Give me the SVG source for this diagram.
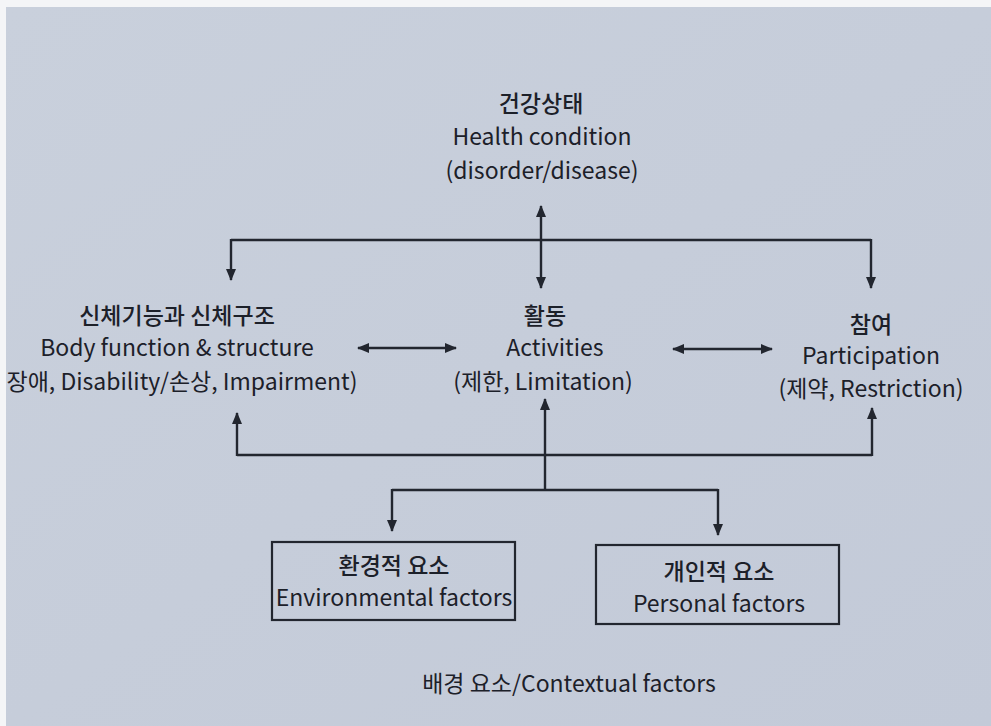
<svg xmlns="http://www.w3.org/2000/svg" width="991" height="726" viewBox="0 0 991 726">
<defs>
<linearGradient id="bg" x1="0" y1="0" x2="1" y2="1">
<stop offset="0" stop-color="#c9d0dc"/>
<stop offset="0.5" stop-color="#c6cdda"/>
<stop offset="1" stop-color="#c3cad8"/>
</linearGradient>
<marker id="ah" viewBox="0 0 12 10" refX="11" refY="5" markerWidth="12" markerHeight="10" markerUnits="userSpaceOnUse" orient="auto-start-reverse">
<path d="M0,0 L12,5 L0,10 Z" fill="#22262f"/>
</marker>
<style>
.t{font-family:"Noto Sans CJK KR","Noto Sans",sans-serif;fill:#1c2029;text-anchor:middle;}
.k{font-size:23px;font-weight:500;}
.e{font-size:23px;}
.c{fill:none;stroke:#22262f;stroke-width:2.4;}
.box{fill:none;stroke:#22262f;stroke-width:2.2;}
</style>
</defs>
<rect x="0" y="0" width="991" height="726" fill="#f4f5f7"/>
<rect x="6" y="7" width="985" height="719" fill="url(#bg)"/>

<g id="connectors">
<path class="c" d="M541,240 L541,206" marker-end="url(#ah)"/>
<path class="c" d="M541,240 L541,288" marker-end="url(#ah)"/>
<path class="c" d="M231,240 L871,240"/>
<path class="c" d="M231,239 L231,280" marker-end="url(#ah)"/>
<path class="c" d="M871,239 L871,288" marker-end="url(#ah)"/>
<path class="c" d="M358,348 L456,348" marker-start="url(#ah)" marker-end="url(#ah)"/>
<path class="c" d="M673,349 L772,349" marker-start="url(#ah)" marker-end="url(#ah)"/>
<path class="c" d="M237,455 L872,455"/>
<path class="c" d="M237,456 L237,413" marker-end="url(#ah)"/>
<path class="c" d="M872,456 L872,408" marker-end="url(#ah)"/>
<path class="c" d="M545,490 L545,399" marker-end="url(#ah)"/>
<path class="c" d="M392,490 L718,490"/>
<path class="c" d="M392,489 L392,531" marker-end="url(#ah)"/>
<path class="c" d="M718,489 L718,535" marker-end="url(#ah)"/>
</g>

<g id="health">
<text class="t k" x="541" y="112">건강상태</text>
<text class="t e" x="542" y="145">Health condition</text>
<text class="t e" x="542" y="179">(disorder/disease)</text>
</g>

<g id="body">
<text class="t k" x="177" y="324">신체기능과 신체구조</text>
<text class="t e" x="177" y="356">Body function &amp; structure</text>
<text class="t e" x="182" y="390">장애, Disability/손상, Impairment)</text>
</g>

<g id="activities">
<text class="t k" x="545" y="324">활동</text>
<text class="t e" x="555" y="356">Activities</text>
<text class="t e" x="543" y="390">(제한, Limitation)</text>
</g>

<g id="participation">
<text class="t k" x="871" y="333">참여</text>
<text class="t e" x="871" y="364">Participation</text>
<text class="t e" x="871" y="397">(제약, Restriction)</text>
</g>

<g id="environmental">
<rect class="box" x="272" y="542" width="243" height="78"/>
<text class="t k" x="394" y="574">환경적 요소</text>
<text class="t e" x="394" y="606">Environmental factors</text>
</g>

<g id="personal">
<rect class="box" x="596" y="545" width="243" height="79"/>
<text class="t k" x="719" y="580">개인적 요소</text>
<text class="t e" x="719" y="612">Personal factors</text>
</g>

<g id="contextual">
<text class="t e" x="569" y="692">배경 요소/Contextual factors</text>
</g>
</svg>
